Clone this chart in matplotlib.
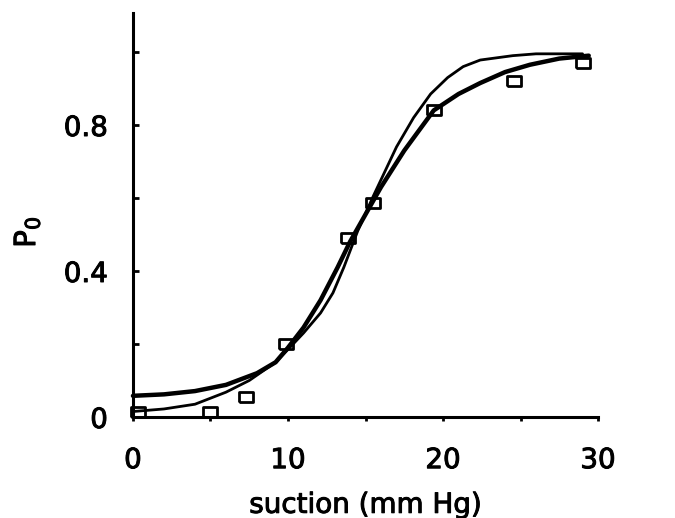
import matplotlib
matplotlib.use("Agg")
import matplotlib.pyplot as plt
import matplotlib.patheffects as pe

# open-square data points
suction = [0.3, 5.0, 7.3, 9.9, 13.9, 15.5, 19.4, 24.6, 29.0]
p_open = [0.015, 0.015, 0.055, 0.20, 0.49, 0.585, 0.84, 0.92, 0.97]

# thick fitted curve
thick_x = [0, 2, 4, 6, 8, 9.2, 10, 11, 12.1, 13.2, 14, 15, 16, 17.5, 19.4, 21, 22.4, 24, 25.6, 27.5, 29.4]
thick_y = [0.058, 0.062, 0.071, 0.088, 0.12, 0.15, 0.19, 0.245, 0.32, 0.41, 0.48, 0.555, 0.63, 0.73, 0.84, 0.885, 0.915, 0.945, 0.965, 0.982, 0.99]

# thin fitted curve
thin_x = [0, 2, 4, 6, 7.5, 9.2, 10, 11, 12.1, 12.9, 13.6, 14.5, 15.5, 16, 17, 18.1, 19.2, 20.3, 21.3, 22.4, 24.5, 26, 29]
thin_y = [0.015, 0.022, 0.035, 0.068, 0.10, 0.15, 0.185, 0.23, 0.285, 0.34, 0.41, 0.51, 0.605, 0.65, 0.74, 0.82, 0.885, 0.93, 0.96, 0.978, 0.99, 0.995, 0.995]

x_ticks = [0, 5, 10, 15, 20, 25, 30]
x_labels = ["0", "", "10", "", "20", "", "30"]
y_ticks = [0, 0.2, 0.4, 0.6, 0.8, 1.0]
y_labels = ["0", "", "0.4", "", "0.8", ""]

plt.rcParams["font.family"] = ["DejaVu Sans"]
plt.rcParams["mathtext.default"] = "regular"

fig = plt.figure(figsize=(6.75, 5.18), dpi=100)
ax = fig.add_axes([0.197, 0.195, 0.689, 0.78])

box = [(-1.4, -1), (1.4, -1), (1.4, 1), (-1.4, 1), (-1.4, -1)]

ax.plot(thick_x, thick_y, color="black", lw=3.2, solid_capstyle="round", clip_on=False)
ax.plot(thin_x, thin_y, color="black", lw=2.0, solid_capstyle="round", clip_on=False)
ax.plot(suction, p_open, ls="none", marker=box, ms=9.5, mfc="none", mec="black", mew=2.0, clip_on=False)

ax.set_xlim(0, 30)
ax.set_ylim(0, 1.107)
for s in ["top", "right"]:
    ax.spines[s].set_visible(False)
for s in ["left", "bottom"]:
    ax.spines[s].set_linewidth(2.2)

ax.set_xticks(x_ticks)
ax.set_xticklabels(x_labels)
ax.set_yticks(y_ticks)
ax.set_yticklabels(y_labels)
ax.tick_params(axis="y", direction="in", length=4, width=2, pad=18, labelsize=20)
ax.tick_params(axis="x", direction="out", length=3, width=2, pad=18, labelsize=20)

# scanned print looks a bit heavier than the plain font
heavy = [pe.withStroke(linewidth=0.7, foreground="black")]
for t in ax.get_xticklabels() + ax.get_yticklabels():
    t.set_path_effects(heavy)

ax.set_xlabel("suction (mm Hg)", fontsize=20, labelpad=12, path_effects=heavy)
fig.text(0.04, 0.552, r"$P_0$", rotation=90, fontsize=21, ha="center", va="center", path_effects=heavy)

fig.savefig("out.png", dpi=100, facecolor="white")
